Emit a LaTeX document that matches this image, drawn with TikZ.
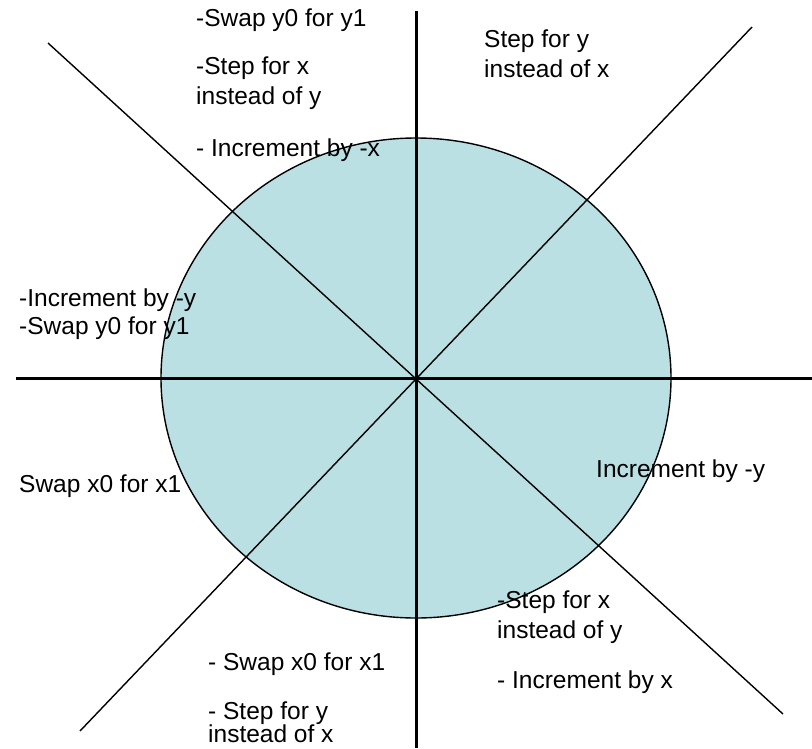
\documentclass[tikz,border=0pt]{standalone}
\usepackage{fontspec}
\setmainfont{Liberation Sans}
\usetikzlibrary{shapes.geometric}
\tikzset{
  lbl/.style={anchor=base west, inner sep=0pt, font=\fontsize{24.5}{30}\selectfont},
  axis/.style={line width=3pt},
  diag/.style={line width=1.4pt},
  disk/.style={ellipse, draw=black, line width=1.4pt, fill=diskblue, minimum width=510pt, minimum height=480pt, inner sep=0pt},
}
\definecolor{diskblue}{RGB}{186,224,227}
\begin{document}
\begin{tikzpicture}[x=1pt,y=-1pt]
\useasboundingbox (0,0) rectangle (812,748);
\node[disk] (e) at (416,378) {};
\coordinate (c) at (416,378);
\coordinate (vt) at (416,11);
\coordinate (vb) at (416,748);
\coordinate (hl) at (16,378);
\coordinate (hr) at (812,378);
\coordinate (tl) at (48,43);
\coordinate (br) at (783,714);
\coordinate (tr) at (752,27);
\coordinate (bl) at (80,731);
\draw[axis] (vt) -- (vb);
\draw[axis] (hl) -- (hr);
\draw[diag] (tl) -- (br);
\draw[diag] (tr) -- (bl);
\node[lbl] (t1) at (196,26) {-Swap y0 for y1};
\node[lbl] (t2) at (196,74) {-Step for x};
\node[lbl] (t3) at (196,104) {instead of y};
\node[lbl] (t4) at (196,156) {- Increment by -x};
\node[lbl] (t5) at (484,47) {Step for y};
\node[lbl] (t6) at (484,77) {instead of x};
\node[lbl] (t7) at (19,306) {-Increment by -y};
\node[lbl] (t8) at (19,334) {-Swap y0 for y1};
\node[lbl] (t9) at (19,492) {Swap x0 for x1};
\node[lbl] (t10) at (596,477) {Increment by -y};
\node[lbl] (t11) at (497,608) {-Step for x};
\node[lbl] (t12) at (497,638) {instead of y};
\node[lbl] (t13) at (497,688) {- Increment by x};
\node[lbl] (t14) at (208,670) {- Swap x0 for x1};
\node[lbl] (t15) at (208,719) {- Step for y};
\node[lbl] (t16) at (208,742) {instead of x};
\end{tikzpicture}
\end{document}
